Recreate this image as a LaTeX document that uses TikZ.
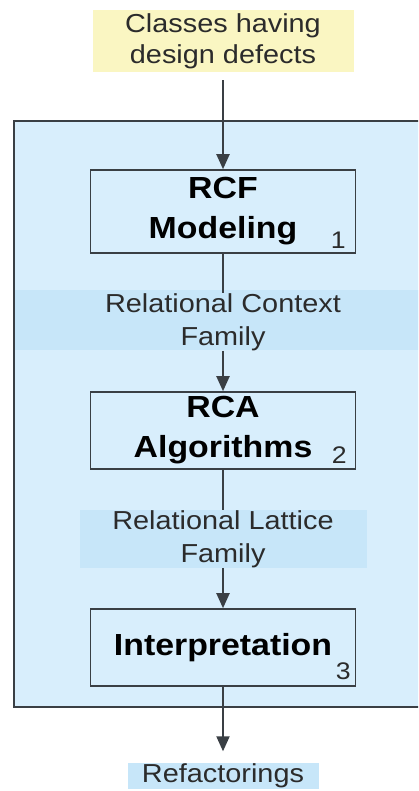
\documentclass[tikz,border=0pt]{standalone}
\usepackage{fontspec}
\setmainfont{Liberation Sans}[FakeStretch=1.11]
\usetikzlibrary{arrows.meta,calc}
\definecolor{panelblue}{HTML}{D8EEFC}
\definecolor{bandblue}{HTML}{C7E6F9}
\definecolor{noteyellow}{HTML}{FAF6C2}
\definecolor{edgegray}{HTML}{3A3F44}
\definecolor{inkgray}{HTML}{2B2B2B}
\begin{document}
\begin{tikzpicture}[x=1pt,y=-1pt,
  flow/.style={draw=edgegray, line width=2pt, -{Triangle[length=15pt,width=13pt]}},
  link/.style={draw=edgegray, line width=2pt},
  stepbox/.style={draw=edgegray, line width=1.6pt, fill=panelblue, minimum width=265pt,
    inner sep=0pt, align=center, font=\fontsize{30.5}{40}\selectfont\bfseries, text=black},
  datalabel/.style={inner sep=0pt, align=center, font=\fontsize{26}{33}\selectfont, text=inkgray},
  stepno/.style={inner sep=0pt, anchor=base, font=\fontsize{24}{24}\selectfont, text=inkgray},
]
\useasboundingbox (0,0) rectangle (418,791);
\fill[white] (0,0) rectangle (418,791);

% outer process panel with the first data band
\begin{scope}
  \clip (0,0) rectangle (418,791);
  \draw[fill=panelblue, draw=edgegray, line width=2pt] (14,121) rectangle (440,707);
  \fill[bandblue] (15,290) rectangle (440,350);
\end{scope}

% input
\node[fill=noteyellow, minimum width=261pt, minimum height=62pt, inner sep=0pt, align=center,
  font=\fontsize{26}{31}\selectfont, text=inkgray] (input) at (223,41) {Classes having\\design defects};

% step 1
\node[stepbox, minimum height=83pt] (rcf) at (223,211.5) {RCF\\Modeling};
\node[stepno] (n1) at ($(rcf.south east)+(-18,-5)$) {1};

\node[datalabel] (rcfam) at (223,322) {Relational Context\\Family};

% step 2
\node[stepbox, minimum height=77pt] (rca) at (223,430.5) {RCA\\Algorithms};
\node[stepno] (n2) at ($(rca.south east)+(-17,-6)$) {2};

\node[datalabel, fill=bandblue, minimum width=287pt, minimum height=55pt]
  (rlfam) at (223,539) {Relational Lattice\\Family};

% step 3
\node[stepbox, minimum height=77pt] (interp) at (223,647.5) {Interpretation};
\node[stepno] (n3) at ($(interp.south east)+(-13,-7)$) {3};

% output
\node[datalabel, fill=bandblue, minimum width=191pt, minimum height=26pt] (out) at (223,775.5) {Refactorings};

% connectors
\draw[flow, shorten <=8pt] (input) -- (rcf);
\draw[link] (rcf) -- (rcfam);
\draw[flow] (rcfam) -- (rca);
\draw[link] (rca) -- (rlfam);
\draw[flow] (rlfam) -- (interp);
\draw[flow, shorten >=11pt] (interp) -- (out);
\end{tikzpicture}
\end{document}
